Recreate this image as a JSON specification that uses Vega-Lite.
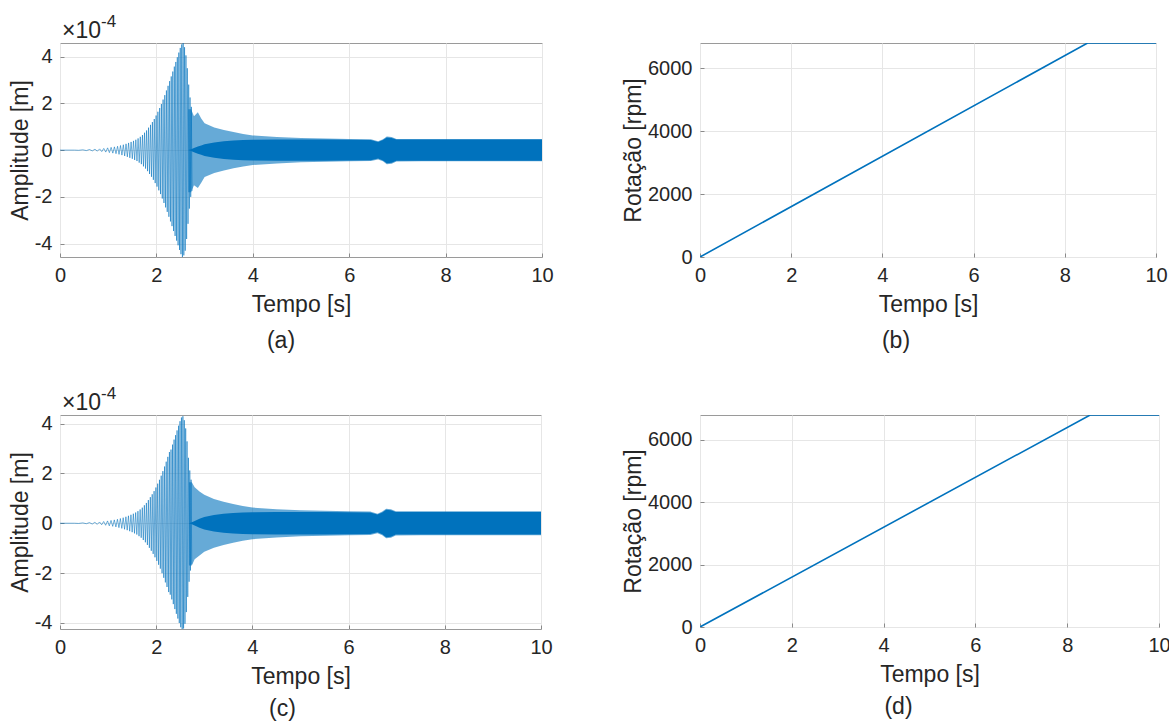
{
  "$schema": "https://vega.github.io/schema/vega-lite/v6.json",
  "background": "white",
  "padding": {"left": 8, "top": 12, "right": 0, "bottom": 0},
  "config": {
    "font": "Liberation Sans",
    "view": {"stroke": "#9a9a9a", "strokeWidth": 1},
    "axis": {
      "labelFont": "Liberation Sans", "labelFontSize": 20, "labelColor": "#262626",
      "titleFont": "Liberation Sans", "titleFontSize": 23, "titleFontWeight": "normal", "titleColor": "#262626",
      "gridColor": "#e6e6e6", "gridWidth": 1, "domain": false,
      "tickColor": "#8a8a8a", "tickSize": -4, "labelPadding": 12, "labelFlush": false, "labelOverlap": false
    },
    "axisX": {"titlePadding": 8},
    "axisY": {"titlePadding": 2},
    "title": {"font": "Liberation Sans", "fontSize": 23, "fontWeight": "normal", "color": "#262626"}
  },
  "datasets": {
    "rot": [{"t": 0, "rpm": 0}, {"t": 8.5, "rpm": 6800}, {"t": 10, "rpm": 6800}],
    "env_a": [
      {"t": 2.66, "hi": 1.75, "lo": -1.8, "chi": 0.0, "clo": -0.0},
      {"t": 2.72, "hi": 1.75, "lo": -1.8, "chi": 0.04, "clo": -0.04},
      {"t": 2.78, "hi": 1.45, "lo": -1.5, "chi": 0.09, "clo": -0.09},
      {"t": 2.86, "hi": 1.62, "lo": -1.62, "chi": 0.15, "clo": -0.15},
      {"t": 2.93, "hi": 1.35, "lo": -1.4, "chi": 0.2, "clo": -0.2},
      {"t": 3.0, "hi": 1.15, "lo": -1.15, "chi": 0.25, "clo": -0.25},
      {"t": 3.2, "hi": 0.97, "lo": -0.98, "chi": 0.33, "clo": -0.33},
      {"t": 3.4, "hi": 0.86, "lo": -0.87, "chi": 0.38, "clo": -0.38},
      {"t": 3.6, "hi": 0.77, "lo": -0.78, "chi": 0.41, "clo": -0.41},
      {"t": 3.8, "hi": 0.69, "lo": -0.7, "chi": 0.43, "clo": -0.43},
      {"t": 4.0, "hi": 0.63, "lo": -0.64, "chi": 0.44, "clo": -0.44},
      {"t": 4.5, "hi": 0.56, "lo": -0.57, "chi": 0.45, "clo": -0.45},
      {"t": 5.0, "hi": 0.52, "lo": -0.52, "chi": 0.45, "clo": -0.45},
      {"t": 5.5, "hi": 0.5, "lo": -0.5, "chi": 0.45, "clo": -0.45},
      {"t": 6.0, "hi": 0.48, "lo": -0.48, "chi": 0.44, "clo": -0.44},
      {"t": 6.45, "hi": 0.47, "lo": -0.47, "chi": 0.43, "clo": -0.43},
      {"t": 6.6, "hi": 0.38, "lo": -0.4, "chi": 0.35, "clo": -0.36},
      {"t": 6.7, "hi": 0.47, "lo": -0.48, "chi": 0.43, "clo": -0.44},
      {"t": 6.78, "hi": 0.58, "lo": -0.6, "chi": 0.54, "clo": -0.56},
      {"t": 6.88, "hi": 0.56, "lo": -0.58, "chi": 0.52, "clo": -0.54},
      {"t": 6.98, "hi": 0.48, "lo": -0.49, "chi": 0.45, "clo": -0.45},
      {"t": 7.5, "hi": 0.48, "lo": -0.48, "chi": 0.45, "clo": -0.45},
      {"t": 8.5, "hi": 0.48, "lo": -0.48, "chi": 0.45, "clo": -0.45},
      {"t": 10, "hi": 0.48, "lo": -0.48, "chi": 0.45, "clo": -0.45}
    ],
    "env_c": [
      {"t": 2.68, "hi": 1.65, "lo": -1.7, "chi": 0.0, "clo": -0.0},
      {"t": 2.74, "hi": 1.65, "lo": -1.7, "chi": 0.04, "clo": -0.04},
      {"t": 2.8, "hi": 1.45, "lo": -1.45, "chi": 0.09, "clo": -0.09},
      {"t": 2.9, "hi": 1.28, "lo": -1.3, "chi": 0.18, "clo": -0.18},
      {"t": 3.0, "hi": 1.15, "lo": -1.15, "chi": 0.25, "clo": -0.25},
      {"t": 3.2, "hi": 0.97, "lo": -0.98, "chi": 0.33, "clo": -0.33},
      {"t": 3.4, "hi": 0.86, "lo": -0.87, "chi": 0.38, "clo": -0.38},
      {"t": 3.6, "hi": 0.77, "lo": -0.78, "chi": 0.41, "clo": -0.41},
      {"t": 3.8, "hi": 0.69, "lo": -0.7, "chi": 0.43, "clo": -0.43},
      {"t": 4.0, "hi": 0.63, "lo": -0.64, "chi": 0.44, "clo": -0.44},
      {"t": 4.5, "hi": 0.56, "lo": -0.57, "chi": 0.45, "clo": -0.45},
      {"t": 5.0, "hi": 0.52, "lo": -0.52, "chi": 0.45, "clo": -0.45},
      {"t": 5.5, "hi": 0.5, "lo": -0.5, "chi": 0.45, "clo": -0.45},
      {"t": 6.0, "hi": 0.48, "lo": -0.48, "chi": 0.44, "clo": -0.44},
      {"t": 6.45, "hi": 0.47, "lo": -0.47, "chi": 0.43, "clo": -0.43},
      {"t": 6.6, "hi": 0.38, "lo": -0.4, "chi": 0.35, "clo": -0.36},
      {"t": 6.7, "hi": 0.47, "lo": -0.48, "chi": 0.43, "clo": -0.44},
      {"t": 6.78, "hi": 0.58, "lo": -0.6, "chi": 0.54, "clo": -0.56},
      {"t": 6.88, "hi": 0.56, "lo": -0.58, "chi": 0.52, "clo": -0.54},
      {"t": 6.98, "hi": 0.48, "lo": -0.49, "chi": 0.45, "clo": -0.45},
      {"t": 7.5, "hi": 0.48, "lo": -0.48, "chi": 0.45, "clo": -0.45},
      {"t": 8.5, "hi": 0.48, "lo": -0.48, "chi": 0.45, "clo": -0.45},
      {"t": 10, "hi": 0.48, "lo": -0.48, "chi": 0.45, "clo": -0.45}
    ],
    "osc_a": [
      {"t": 0, "amp": 0}, {"t": 0.3, "amp": 0},
      {"t": 0.387, "amp": -0.008}, {"t": 0.474, "amp": 0.013}, {"t": 0.548, "amp": -0.02}, {"t": 0.612, "amp": 0.026},
      {"t": 0.671, "amp": -0.032}, {"t": 0.725, "amp": 0.038}, {"t": 0.775, "amp": -0.045}, {"t": 0.822, "amp": 0.053},
      {"t": 0.866, "amp": -0.062}, {"t": 0.908, "amp": 0.072}, {"t": 0.949, "amp": -0.084}, {"t": 0.988, "amp": 0.096},
      {"t": 1.025, "amp": -0.107}, {"t": 1.061, "amp": 0.118}, {"t": 1.096, "amp": -0.129}, {"t": 1.129, "amp": 0.139},
      {"t": 1.162, "amp": -0.152}, {"t": 1.194, "amp": 0.165}, {"t": 1.225, "amp": -0.182}, {"t": 1.255, "amp": 0.197},
      {"t": 1.285, "amp": -0.213}, {"t": 1.314, "amp": 0.23}, {"t": 1.342, "amp": -0.25}, {"t": 1.37, "amp": 0.268},
      {"t": 1.397, "amp": -0.288}, {"t": 1.423, "amp": 0.308}, {"t": 1.449, "amp": -0.33}, {"t": 1.475, "amp": 0.35},
      {"t": 1.5, "amp": -0.37}, {"t": 1.525, "amp": 0.395}, {"t": 1.549, "amp": -0.42}, {"t": 1.573, "amp": 0.443},
      {"t": 1.597, "amp": -0.467}, {"t": 1.62, "amp": 0.5}, {"t": 1.643, "amp": -0.535}, {"t": 1.666, "amp": 0.57},
      {"t": 1.688, "amp": -0.6}, {"t": 1.711, "amp": 0.645}, {"t": 1.732, "amp": -0.695}, {"t": 1.754, "amp": 0.745},
      {"t": 1.775, "amp": -0.79}, {"t": 1.796, "amp": 0.84}, {"t": 1.817, "amp": -0.9}, {"t": 1.837, "amp": 0.96},
      {"t": 1.858, "amp": -1.02}, {"t": 1.878, "amp": 1.08}, {"t": 1.898, "amp": -1.14}, {"t": 1.917, "amp": 1.2},
      {"t": 1.937, "amp": -1.27}, {"t": 1.956, "amp": 1.33}, {"t": 1.975, "amp": -1.41}, {"t": 1.994, "amp": 1.48},
      {"t": 2.013, "amp": -1.56}, {"t": 2.031, "amp": 1.64}, {"t": 2.05, "amp": -1.72}, {"t": 2.068, "amp": 1.8},
      {"t": 2.086, "amp": -1.88}, {"t": 2.104, "amp": 1.97}, {"t": 2.122, "amp": -2.07}, {"t": 2.139, "amp": 2.16},
      {"t": 2.157, "amp": -2.26}, {"t": 2.174, "amp": 2.35}, {"t": 2.191, "amp": -2.45}, {"t": 2.208, "amp": 2.55},
      {"t": 2.225, "amp": -2.64}, {"t": 2.242, "amp": 2.75}, {"t": 2.259, "amp": -2.85}, {"t": 2.275, "amp": 2.95},
      {"t": 2.292, "amp": -3.05}, {"t": 2.308, "amp": 3.15}, {"t": 2.324, "amp": -3.25}, {"t": 2.34, "amp": 3.36},
      {"t": 2.356, "amp": -3.46}, {"t": 2.372, "amp": 3.57}, {"t": 2.388, "amp": -3.67}, {"t": 2.403, "amp": 3.77},
      {"t": 2.419, "amp": -3.87}, {"t": 2.434, "amp": 3.97}, {"t": 2.45, "amp": -4.07}, {"t": 2.465, "amp": 4.17},
      {"t": 2.48, "amp": -4.27}, {"t": 2.495, "amp": 4.37}, {"t": 2.51, "amp": -4.45}, {"t": 2.525, "amp": 4.52},
      {"t": 2.54, "amp": -4.57}, {"t": 2.555, "amp": 4.58}, {"t": 2.569, "amp": -4.5}, {"t": 2.584, "amp": 4.4},
      {"t": 2.598, "amp": -4.3}, {"t": 2.613, "amp": 4.05}, {"t": 2.627, "amp": -3.8}, {"t": 2.641, "amp": 3.5},
      {"t": 2.656, "amp": -3.15}, {"t": 2.67, "amp": 2.8}, {"t": 2.684, "amp": -2.5}, {"t": 2.698, "amp": 2.25},
      {"t": 2.712, "amp": -2.0}, {"t": 2.725, "amp": 1.85}, {"t": 2.739, "amp": -1.75}
    ],
    "osc_c": [
      {"t": 0, "amp": 0}, {"t": 0.3, "amp": 0},
      {"t": 0.387, "amp": -0.008}, {"t": 0.474, "amp": 0.013}, {"t": 0.548, "amp": -0.019}, {"t": 0.612, "amp": 0.025},
      {"t": 0.671, "amp": -0.031}, {"t": 0.725, "amp": 0.037}, {"t": 0.775, "amp": -0.044}, {"t": 0.822, "amp": 0.051},
      {"t": 0.866, "amp": -0.06}, {"t": 0.908, "amp": 0.07}, {"t": 0.949, "amp": -0.081}, {"t": 0.988, "amp": 0.093},
      {"t": 1.025, "amp": -0.104}, {"t": 1.061, "amp": 0.114}, {"t": 1.096, "amp": -0.125}, {"t": 1.129, "amp": 0.135},
      {"t": 1.162, "amp": -0.147}, {"t": 1.194, "amp": 0.16}, {"t": 1.225, "amp": -0.177}, {"t": 1.255, "amp": 0.191},
      {"t": 1.285, "amp": -0.207}, {"t": 1.314, "amp": 0.223}, {"t": 1.342, "amp": -0.243}, {"t": 1.37, "amp": 0.26},
      {"t": 1.397, "amp": -0.279}, {"t": 1.423, "amp": 0.299}, {"t": 1.449, "amp": -0.32}, {"t": 1.475, "amp": 0.34},
      {"t": 1.5, "amp": -0.359}, {"t": 1.525, "amp": 0.383}, {"t": 1.549, "amp": -0.407}, {"t": 1.573, "amp": 0.43},
      {"t": 1.597, "amp": -0.453}, {"t": 1.62, "amp": 0.485}, {"t": 1.643, "amp": -0.519}, {"t": 1.666, "amp": 0.553},
      {"t": 1.688, "amp": -0.582}, {"t": 1.711, "amp": 0.626}, {"t": 1.732, "amp": -0.674}, {"t": 1.754, "amp": 0.723},
      {"t": 1.775, "amp": -0.766}, {"t": 1.796, "amp": 0.815}, {"t": 1.817, "amp": -0.873}, {"t": 1.837, "amp": 0.931},
      {"t": 1.858, "amp": -0.989}, {"t": 1.878, "amp": 1.048}, {"t": 1.898, "amp": -1.106}, {"t": 1.917, "amp": 1.164},
      {"t": 1.937, "amp": -1.232}, {"t": 1.956, "amp": 1.29}, {"t": 1.975, "amp": -1.368}, {"t": 1.994, "amp": 1.436},
      {"t": 2.013, "amp": -1.513}, {"t": 2.031, "amp": 1.591}, {"t": 2.05, "amp": -1.668}, {"t": 2.068, "amp": 1.746},
      {"t": 2.086, "amp": -1.824}, {"t": 2.104, "amp": 1.911}, {"t": 2.122, "amp": -2.008}, {"t": 2.139, "amp": 2.095},
      {"t": 2.157, "amp": -2.192}, {"t": 2.174, "amp": 2.28}, {"t": 2.191, "amp": -2.377}, {"t": 2.208, "amp": 2.474},
      {"t": 2.225, "amp": -2.561}, {"t": 2.242, "amp": 2.668}, {"t": 2.259, "amp": -2.765}, {"t": 2.275, "amp": 2.862},
      {"t": 2.292, "amp": -2.87}, {"t": 2.308, "amp": 2.96}, {"t": 2.324, "amp": -3.06}, {"t": 2.34, "amp": 3.16},
      {"t": 2.356, "amp": -3.25}, {"t": 2.372, "amp": 3.36}, {"t": 2.388, "amp": -3.45}, {"t": 2.403, "amp": 3.54},
      {"t": 2.419, "amp": -3.64}, {"t": 2.434, "amp": 3.73}, {"t": 2.45, "amp": -3.83}, {"t": 2.465, "amp": 3.92},
      {"t": 2.48, "amp": -4.01}, {"t": 2.495, "amp": 4.1}, {"t": 2.51, "amp": -4.18}, {"t": 2.525, "amp": 4.25},
      {"t": 2.54, "amp": -4.29}, {"t": 2.555, "amp": 4.3}, {"t": 2.569, "amp": -4.23}, {"t": 2.584, "amp": 4.14},
      {"t": 2.598, "amp": -4.04}, {"t": 2.613, "amp": 3.81}, {"t": 2.627, "amp": -3.57}, {"t": 2.641, "amp": 3.29},
      {"t": 2.656, "amp": -2.96}, {"t": 2.67, "amp": 2.63}, {"t": 2.684, "amp": -2.35}, {"t": 2.698, "amp": 2.12},
      {"t": 2.712, "amp": -1.9}, {"t": 2.725, "amp": 1.75}, {"t": 2.739, "amp": -1.65}
    ]
  },
  "bounds": "flush",
  "columns": 2,
  "spacing": {"column": 158, "row": 158},
  "concat": [
    {
      "width": 482, "height": 214,
      "title": {"text": "(a)", "orient": "bottom", "dx": -20, "offset": 14},
      "layer": [
        {
          "data": {"name": "env_a"},
          "mark": {"type": "area", "color": "#0072BD", "opacity": 0.6, "clip": true},
          "encoding": {
            "x": {"field": "t", "type": "quantitative", "title": "Tempo [s]", "scale": {"domain": [0, 10], "nice": false}, "axis": {"values": [0, 2, 4, 6, 8, 10]}},
            "y": {"field": "hi", "type": "quantitative", "title": "Amplitude [m]", "scale": {"domain": [-4.57, 4.58], "nice": false, "zero": false}, "axis": {"values": [-4, -2, 0, 2, 4], "labelExpr": "replace(datum.label, '−', '-')"}},
            "y2": {"field": "lo"}
          }
        },
        {
          "data": {"name": "env_a"},
          "mark": {"type": "area", "color": "#0072BD", "opacity": 1, "clip": true},
          "encoding": {
            "x": {"field": "t", "type": "quantitative", "title": "Tempo [s]"},
            "y": {"field": "chi", "type": "quantitative", "title": "Amplitude [m]"},
            "y2": {"field": "clo"}
          }
        },
        {
          "data": {"name": "osc_a"},
          "mark": {"type": "line", "color": "#0072BD", "strokeWidth": 0.8, "opacity": 0.7, "clip": true},
          "encoding": {
            "x": {"field": "t", "type": "quantitative", "title": "Tempo [s]"},
            "y": {"field": "amp", "type": "quantitative", "title": "Amplitude [m]"}
          }
        },
        {
          "data": {"values": [{}]},
          "mark": {"type": "text", "align": "left", "baseline": "alphabetic", "dx": 2, "dy": -5, "fontSize": 23, "color": "#262626"},
          "encoding": {"x": {"datum": 0}, "y": {"datum": 4.58}, "text": {"value": "×10"}}
        },
        {
          "data": {"values": [{}]},
          "mark": {"type": "text", "align": "left", "baseline": "alphabetic", "dx": 41, "dy": -16, "fontSize": 17, "color": "#262626"},
          "encoding": {"x": {"datum": 0}, "y": {"datum": 4.58}, "text": {"value": "-4"}}
        }
      ]
    },
    {
      "width": 456, "height": 214,
      "title": {"text": "(b)", "orient": "bottom", "dx": -32, "offset": 14},
      "data": {"name": "rot"},
      "mark": {"type": "line", "color": "#0072BD", "strokeWidth": 1.6, "clip": true},
      "encoding": {
        "x": {"field": "t", "type": "quantitative", "title": "Tempo [s]", "scale": {"domain": [0, 10], "nice": false}, "axis": {"values": [0, 2, 4, 6, 8, 10]}},
        "y": {"field": "rpm", "type": "quantitative", "title": "Rotação [rpm]", "scale": {"domain": [0, 6800], "nice": false}, "axis": {"values": [0, 2000, 4000, 6000], "format": "d"}}
      }
    },
    {
      "width": 481, "height": 214,
      "title": {"text": "(c)", "orient": "bottom", "dx": -18, "offset": 10},
      "layer": [
        {
          "data": {"name": "env_c"},
          "mark": {"type": "area", "color": "#0072BD", "opacity": 0.6, "clip": true},
          "encoding": {
            "x": {"field": "t", "type": "quantitative", "title": "Tempo [s]", "scale": {"domain": [0, 10], "nice": false}, "axis": {"values": [0, 2, 4, 6, 8, 10]}},
            "y": {"field": "hi", "type": "quantitative", "title": "Amplitude [m]", "scale": {"domain": [-4.25, 4.35], "nice": false, "zero": false}, "axis": {"values": [-4, -2, 0, 2, 4], "labelExpr": "replace(datum.label, '−', '-')"}},
            "y2": {"field": "lo"}
          }
        },
        {
          "data": {"name": "env_c"},
          "mark": {"type": "area", "color": "#0072BD", "opacity": 1, "clip": true},
          "encoding": {
            "x": {"field": "t", "type": "quantitative", "title": "Tempo [s]"},
            "y": {"field": "chi", "type": "quantitative", "title": "Amplitude [m]"},
            "y2": {"field": "clo"}
          }
        },
        {
          "data": {"name": "osc_c"},
          "mark": {"type": "line", "color": "#0072BD", "strokeWidth": 0.8, "opacity": 0.7, "clip": true},
          "encoding": {
            "x": {"field": "t", "type": "quantitative", "title": "Tempo [s]"},
            "y": {"field": "amp", "type": "quantitative", "title": "Amplitude [m]"}
          }
        },
        {
          "data": {"values": [{}]},
          "mark": {"type": "text", "align": "left", "baseline": "alphabetic", "dx": 2, "dy": -5, "fontSize": 23, "color": "#262626"},
          "encoding": {"x": {"datum": 0}, "y": {"datum": 4.35}, "text": {"value": "×10"}}
        },
        {
          "data": {"values": [{}]},
          "mark": {"type": "text", "align": "left", "baseline": "alphabetic", "dx": 41, "dy": -16, "fontSize": 17, "color": "#262626"},
          "encoding": {"x": {"datum": 0}, "y": {"datum": 4.35}, "text": {"value": "-4"}}
        }
      ]
    },
    {
      "width": 459, "height": 212,
      "title": {"text": "(d)", "orient": "bottom", "dx": -31, "offset": 10},
      "data": {"name": "rot"},
      "mark": {"type": "line", "color": "#0072BD", "strokeWidth": 1.6, "clip": true},
      "encoding": {
        "x": {"field": "t", "type": "quantitative", "title": "Tempo [s]", "scale": {"domain": [0, 10], "nice": false}, "axis": {"values": [0, 2, 4, 6, 8, 10]}},
        "y": {"field": "rpm", "type": "quantitative", "title": "Rotação [rpm]", "scale": {"domain": [0, 6800], "nice": false}, "axis": {"values": [0, 2000, 4000, 6000], "format": "d"}}
      }
    }
  ]
}
